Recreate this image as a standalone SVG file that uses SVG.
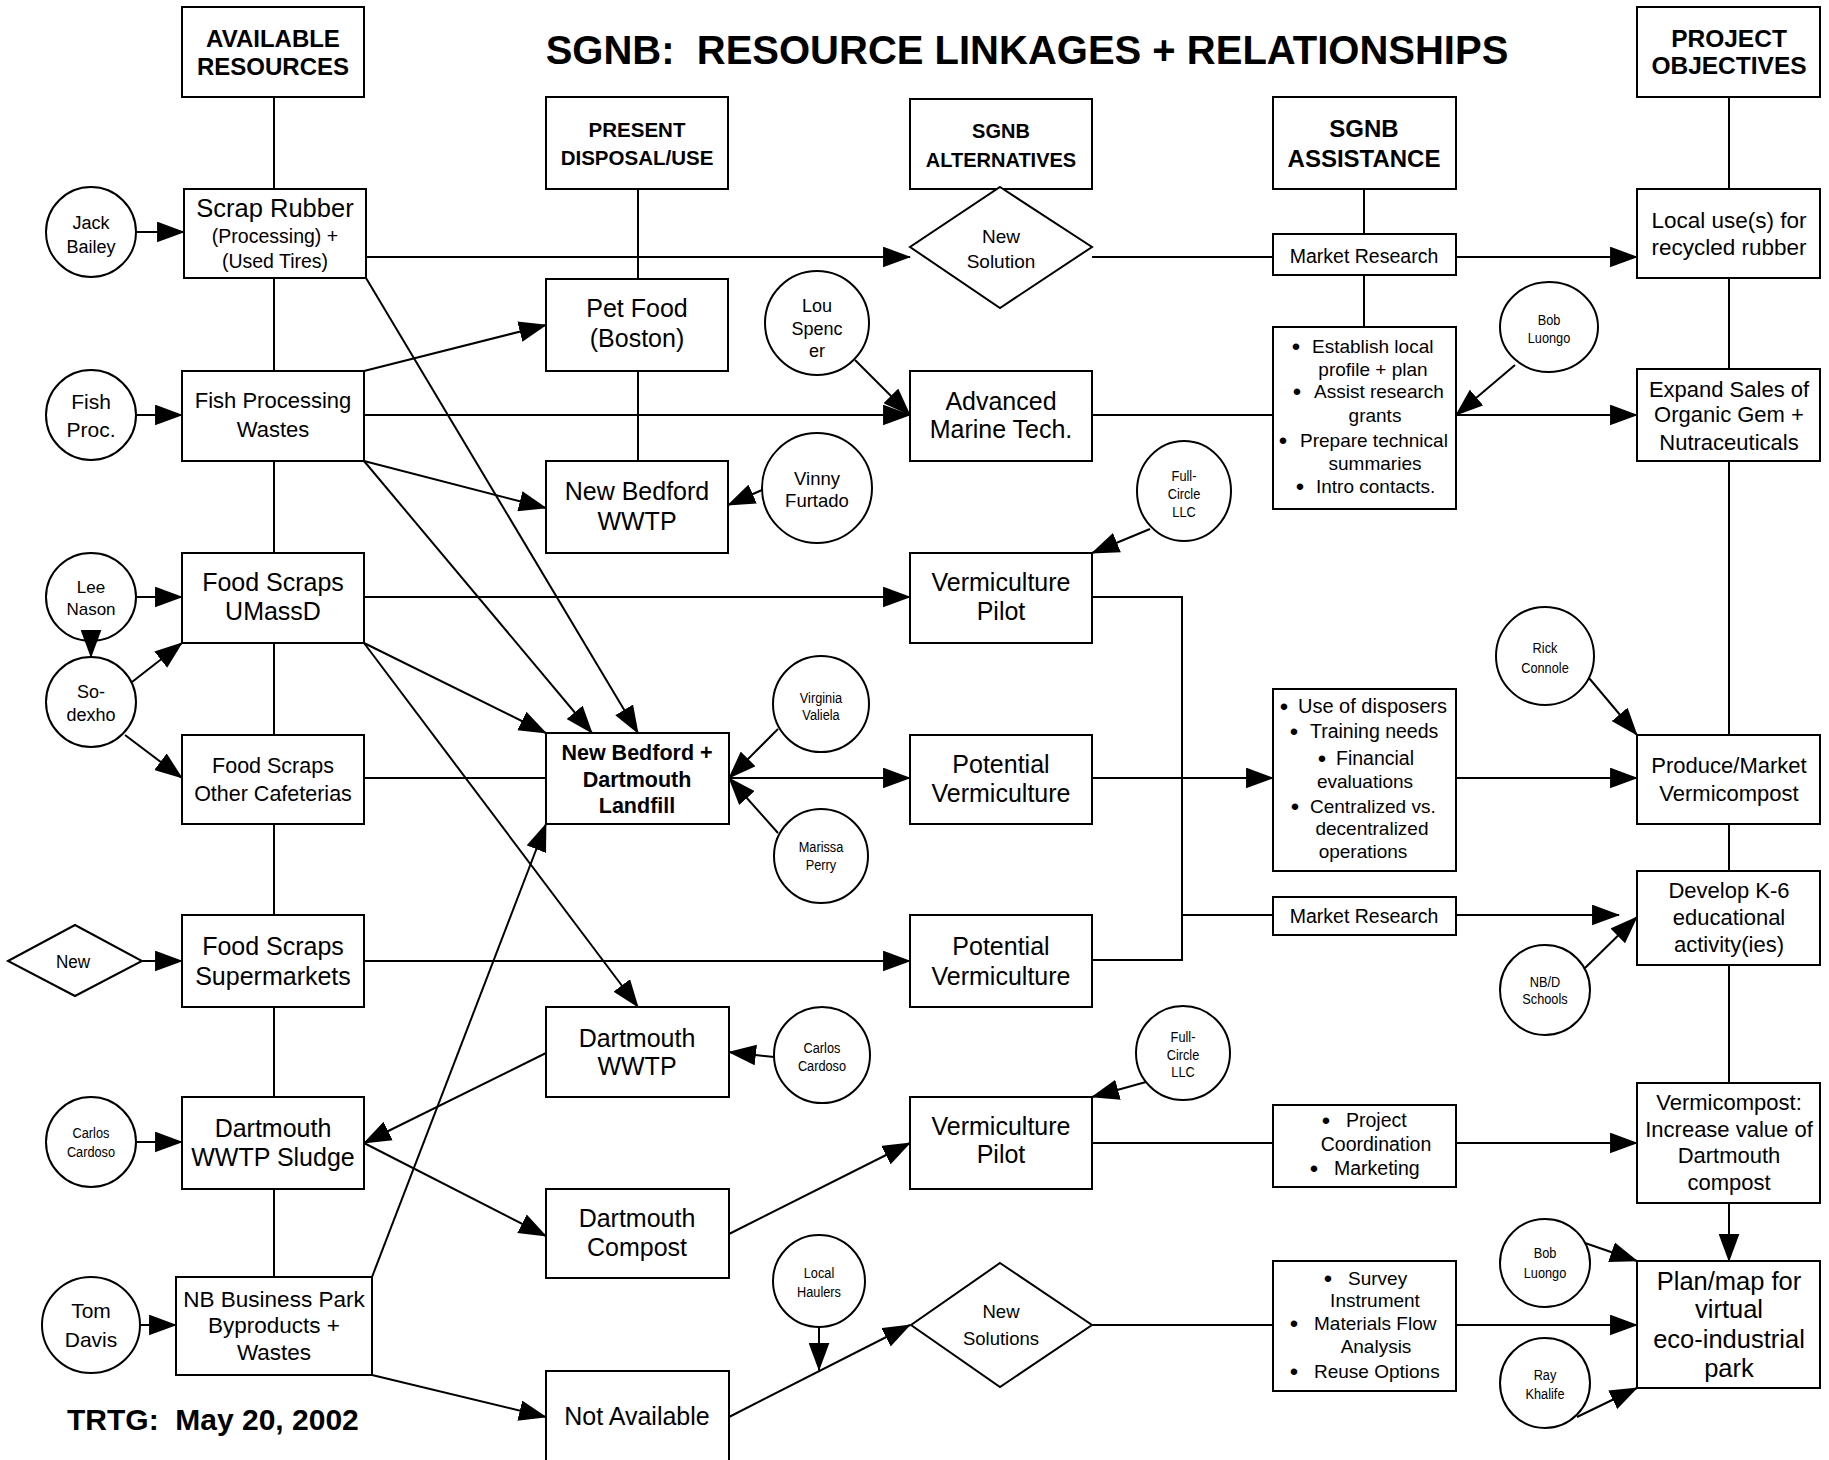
<svg xmlns="http://www.w3.org/2000/svg" width="1829" height="1460" viewBox="0 0 1829 1460">
<defs>
<marker id="ah" markerUnits="userSpaceOnUse" markerWidth="28" markerHeight="21" viewBox="0 0 27 20" refX="26" refY="10" orient="auto">
<path d="M0,0 L27,10 L0,20 z" fill="#000"/>
</marker>
<style>
.bx{fill:#fff;stroke:#000;stroke-width:2}
.ln{fill:none;stroke:#000;stroke-width:2}
.ar{fill:none;stroke:#000;stroke-width:2;marker-end:url(#ah)}
text{font-family:"Liberation Sans",Arial,Helvetica,sans-serif;fill:#000;text-anchor:middle}
.hd{font-weight:bold}
.st{text-anchor:start}
.pre{white-space:pre}
.sm{font-size:14.5px}
.bl{font-size:24px}
</style>
</defs>
<rect width="1829" height="1460" fill="#fff"/>

<!-- titles -->
<text class="hd pre" x="1027" y="64" font-size="40">SGNB:  RESOURCE LINKAGES + RELATIONSHIPS</text>
<text class="hd st pre" x="67" y="1430" font-size="30">TRTG:  May 20, 2002</text>

<!-- column headers -->
<g id="hdr-available">
<rect class="bx" x="182" y="7" width="182" height="90"/>
<text class="hd" font-size="24"><tspan x="273" y="47">AVAILABLE</tspan><tspan x="273" y="75">RESOURCES</tspan></text>
</g>
<g id="hdr-present">
<rect class="bx" x="546" y="97" width="182" height="92"/>
<text class="hd" font-size="20.5"><tspan x="637" y="137">PRESENT</tspan><tspan x="637" y="165">DISPOSAL/USE</tspan></text>
</g>
<g id="hdr-alternatives">
<rect class="bx" x="910" y="99" width="182" height="90"/>
<text class="hd" font-size="20"><tspan x="1001" y="138">SGNB</tspan><tspan x="1001" y="167">ALTERNATIVES</tspan></text>
</g>
<g id="hdr-assistance">
<rect class="bx" x="1273" y="97" width="183" height="92"/>
<text class="hd" font-size="24"><tspan x="1364" y="137">SGNB</tspan><tspan x="1364" y="167">ASSISTANCE</tspan></text>
</g>
<g id="hdr-objectives">
<rect class="bx" x="1637" y="7" width="183" height="90"/>
<text class="hd" font-size="24.5"><tspan x="1729" y="47">PROJECT</tspan><tspan x="1729" y="74">OBJECTIVES</tspan></text>
</g>

<!-- available resources -->
<g id="scrap-rubber">
<rect class="bx" x="184" y="189" width="182" height="89"/>
<text font-size="25.5" x="275" y="217">Scrap Rubber</text>
<text font-size="19.5"><tspan x="275" y="243">(Processing) +</tspan><tspan x="275" y="268">(Used Tires)</tspan></text>
</g>
<g id="fish-processing">
<rect class="bx" x="182" y="371" width="182" height="90"/>
<text font-size="22"><tspan x="273" y="408">Fish Processing</tspan><tspan x="273" y="437">Wastes</tspan></text>
</g>
<g id="food-umassd">
<rect class="bx" x="182" y="553" width="182" height="90"/>
<text font-size="25"><tspan x="273" y="591">Food Scraps</tspan><tspan x="273" y="620">UMassD</tspan></text>
</g>
<g id="food-cafeterias">
<rect class="bx" x="182" y="735" width="182" height="89"/>
<text font-size="21.5"><tspan x="273" y="773">Food Scraps</tspan><tspan x="273" y="801">Other Cafeterias</tspan></text>
</g>
<g id="food-supermarkets">
<rect class="bx" x="182" y="915" width="182" height="92"/>
<text font-size="25"><tspan x="273" y="955">Food Scraps</tspan><tspan x="273" y="985">Supermarkets</tspan></text>
</g>
<g id="wwtp-sludge">
<rect class="bx" x="182" y="1097" width="182" height="92"/>
<text font-size="25"><tspan x="273" y="1137">Dartmouth</tspan><tspan x="273" y="1166">WWTP Sludge</tspan></text>
</g>
<g id="nb-business-park">
<rect class="bx" x="176" y="1277" width="196" height="98"/>
<text font-size="22.5"><tspan x="274" y="1307">NB Business Park</tspan><tspan x="274" y="1333">Byproducts +</tspan><tspan x="274" y="1360">Wastes</tspan></text>
</g>

<!-- contacts, left -->
<g id="jack-bailey">
<circle class="bx" cx="91" cy="232" r="45"/>
<text font-size="18"><tspan x="91" y="229">Jack</tspan><tspan x="91" y="253">Bailey</tspan></text>
</g>
<g id="fish-proc">
<circle class="bx" cx="91" cy="415" r="45"/>
<text font-size="21"><tspan x="91" y="409">Fish</tspan><tspan x="91" y="437">Proc.</tspan></text>
</g>
<g id="lee-nason">
<ellipse class="bx" cx="91" cy="597" rx="45" ry="44"/>
<text font-size="17"><tspan x="91" y="593">Lee</tspan><tspan x="91" y="615">Nason</tspan></text>
</g>
<g id="sodexho">
<circle class="bx" cx="91" cy="702" r="45"/>
<text font-size="18"><tspan x="91" y="698">So-</tspan><tspan x="91" y="721">dexho</tspan></text>
</g>
<g id="new-source">
<polygon class="bx" points="8,961 75,925 142,961 75,996"/>
<text font-size="19" transform="matrix(.9 0 0 1 7.3 0)" x="73" y="968">New</text>
</g>
<g id="carlos-cardoso-1">
<circle class="bx" cx="91" cy="1142" r="45"/>
<text class="sm" transform="matrix(.88 0 0 1 10.92 0)"><tspan x="91" y="1138">Carlos</tspan><tspan x="91" y="1157">Cardoso</tspan></text>
</g>
<g id="tom-davis">
<ellipse class="bx" cx="91" cy="1325" rx="49" ry="48"/>
<text font-size="21"><tspan x="91" y="1318">Tom</tspan><tspan x="91" y="1347">Davis</tspan></text>
</g>

<!-- present disposal / use -->
<g id="pet-food">
<rect class="bx" x="546" y="279" width="182" height="92"/>
<text font-size="25"><tspan x="637" y="317">Pet Food</tspan><tspan x="637" y="347">(Boston)</tspan></text>
</g>
<g id="nb-wwtp">
<rect class="bx" x="546" y="461" width="182" height="92"/>
<text font-size="25"><tspan x="637" y="500">New Bedford</tspan><tspan x="637" y="530">WWTP</tspan></text>
</g>
<g id="landfill">
<rect class="bx" x="546" y="733" width="183" height="91"/>
<text class="hd" font-size="21.5"><tspan x="637" y="760">New Bedford +</tspan><tspan x="637" y="787">Dartmouth</tspan><tspan x="637" y="813">Landfill</tspan></text>
</g>
<g id="dartmouth-wwtp">
<rect class="bx" x="546" y="1007" width="183" height="90"/>
<text font-size="25"><tspan x="637" y="1047">Dartmouth</tspan><tspan x="637" y="1075">WWTP</tspan></text>
</g>
<g id="dartmouth-compost">
<rect class="bx" x="546" y="1189" width="183" height="89"/>
<text font-size="25"><tspan x="637" y="1227">Dartmouth</tspan><tspan x="637" y="1256">Compost</tspan></text>
</g>
<g id="not-available">
<rect class="bx" x="546" y="1371" width="183" height="100"/>
<text font-size="25" x="637" y="1425">Not Available</text>
</g>

<!-- contacts, middle -->
<g id="lou-spencer">
<circle class="bx" cx="817" cy="323" r="52"/>
<text font-size="18"><tspan x="817" y="312">Lou</tspan><tspan x="817" y="335">Spenc</tspan><tspan x="817" y="357">er</tspan></text>
</g>
<g id="vinny-furtado">
<circle class="bx" cx="817" cy="488" r="55"/>
<text font-size="18.5"><tspan x="817" y="485">Vinny</tspan><tspan x="817" y="507">Furtado</tspan></text>
</g>
<g id="virginia-valiela">
<circle class="bx" cx="821" cy="704" r="48"/>
<text class="sm" transform="matrix(.88 0 0 1 98.52 0)"><tspan x="821" y="703">Virginia</tspan><tspan x="821" y="720">Valiela</tspan></text>
</g>
<g id="marissa-perry">
<circle class="bx" cx="821" cy="856" r="47"/>
<text class="sm" transform="matrix(.88 0 0 1 98.52 0)"><tspan x="821" y="852">Marissa</tspan><tspan x="821" y="870">Perry</tspan></text>
</g>
<g id="carlos-cardoso-2">
<circle class="bx" cx="822" cy="1055" r="48"/>
<text class="sm" transform="matrix(.88 0 0 1 98.64 0)"><tspan x="822" y="1053">Carlos</tspan><tspan x="822" y="1071">Cardoso</tspan></text>
</g>
<g id="local-haulers">
<circle class="bx" cx="819" cy="1281" r="46"/>
<text class="sm" transform="matrix(.88 0 0 1 98.28 0)"><tspan x="819" y="1278">Local</tspan><tspan x="819" y="1297">Haulers</tspan></text>
</g>

<!-- SGNB alternatives -->
<g id="new-solution">
<polygon class="bx" points="1000,187 1092,247 1000,308 910,247"/>
<text font-size="19"><tspan x="1001" y="243">New</tspan><tspan x="1001" y="268">Solution</tspan></text>
</g>
<g id="advanced-marine">
<rect class="bx" x="910" y="371" width="182" height="90"/>
<text font-size="25"><tspan x="1001" y="410">Advanced</tspan><tspan x="1001" y="438">Marine Tech.</tspan></text>
</g>
<g id="verm-pilot-1">
<rect class="bx" x="910" y="553" width="182" height="90"/>
<text font-size="25"><tspan x="1001" y="591">Vermiculture</tspan><tspan x="1001" y="620">Pilot</tspan></text>
</g>
<g id="pot-verm-1">
<rect class="bx" x="910" y="735" width="182" height="89"/>
<text font-size="25"><tspan x="1001" y="773">Potential</tspan><tspan x="1001" y="802">Vermiculture</tspan></text>
</g>
<g id="pot-verm-2">
<rect class="bx" x="910" y="915" width="182" height="92"/>
<text font-size="25"><tspan x="1001" y="955">Potential</tspan><tspan x="1001" y="985">Vermiculture</tspan></text>
</g>
<g id="verm-pilot-2">
<rect class="bx" x="910" y="1097" width="182" height="92"/>
<text font-size="25"><tspan x="1001" y="1135">Vermiculture</tspan><tspan x="1001" y="1163">Pilot</tspan></text>
</g>
<g id="new-solutions">
<polygon class="bx" points="1000,1263 1092,1325 1000,1387 911,1325"/>
<text font-size="18.5"><tspan x="1001" y="1318">New</tspan><tspan x="1001" y="1345">Solutions</tspan></text>
</g>
<g id="full-circle-1">
<ellipse class="bx" cx="1184" cy="491" rx="47" ry="50"/>
<text class="sm" transform="matrix(.88 0 0 1 142.08 0)"><tspan x="1184" y="481">Full-</tspan><tspan x="1184" y="499">Circle</tspan><tspan x="1184" y="517">LLC</tspan></text>
</g>
<g id="full-circle-2">
<circle class="bx" cx="1183" cy="1053" r="47"/>
<text class="sm" transform="matrix(.88 0 0 1 141.96 0)"><tspan x="1183" y="1042">Full-</tspan><tspan x="1183" y="1060">Circle</tspan><tspan x="1183" y="1077">LLC</tspan></text>
</g>

<!-- SGNB assistance -->
<g id="market-research-1">
<rect class="bx" x="1273" y="234" width="183" height="41"/>
<text font-size="19.5" x="1364" y="263">Market Research</text>
</g>
<g id="assist-marine">
<rect class="bx" x="1273" y="327" width="183" height="182"/>
<text class="bl" x="1296" y="355">•</text><text class="st" font-size="19" x="1312" y="353">Establish local</text>
<text font-size="19" x="1373" y="376">profile + plan</text>
<text class="bl" x="1297" y="400">•</text><text class="st" font-size="19" x="1314" y="398">Assist research</text>
<text font-size="19" x="1375" y="422">grants</text>
<text class="bl" x="1283" y="449">•</text><text class="st" font-size="19" x="1300" y="447">Prepare technical</text>
<text font-size="19" x="1375" y="470">summaries</text>
<text class="bl" x="1300" y="495">•</text><text class="st" font-size="19" x="1316" y="493">Intro contacts.</text>
</g>
<g id="assist-vermiculture">
<rect class="bx" x="1273" y="689" width="183" height="182"/>
<text class="bl" x="1284" y="715">•</text><text class="st" font-size="20" x="1298" y="713">Use of disposers</text>
<text class="bl" x="1294" y="740">•</text><text class="st" font-size="19.5" x="1310" y="738">Training needs</text>
<text class="bl" x="1322" y="767">•</text><text class="st" font-size="19.5" x="1336" y="765">Financial</text>
<text font-size="19" x="1365" y="788">evaluations</text>
<text class="bl" x="1295" y="815">•</text><text class="st" font-size="19" x="1310" y="813">Centralized vs.</text>
<text font-size="19" x="1372" y="835">decentralized</text>
<text font-size="19" x="1363" y="858">operations</text>
</g>
<g id="market-research-2">
<rect class="bx" x="1273" y="897" width="183" height="38"/>
<text font-size="19.5" x="1364" y="923">Market Research</text>
</g>
<g id="assist-compost">
<rect class="bx" x="1273" y="1105" width="183" height="82"/>
<text class="bl" x="1326" y="1129">•</text><text class="st" font-size="19.5" x="1346" y="1127">Project</text>
<text font-size="19.5" x="1376" y="1151">Coordination</text>
<text class="bl" x="1314" y="1177">•</text><text class="st" font-size="19.5" x="1334" y="1175">Marketing</text>
</g>
<g id="assist-park">
<rect class="bx" x="1273" y="1261" width="183" height="130"/>
<text class="bl" x="1328" y="1287">•</text><text class="st" font-size="19" x="1348" y="1285">Survey</text>
<text font-size="19" x="1375" y="1307">Instrument</text>
<text class="bl" x="1294" y="1332">•</text><text class="st" font-size="19" x="1314" y="1330">Materials Flow</text>
<text font-size="19" x="1376" y="1353">Analysis</text>
<text class="bl" x="1294" y="1380">•</text><text class="st" font-size="19" x="1314" y="1378">Reuse Options</text>
</g>

<!-- contacts, right -->
<g id="bob-luongo-1">
<ellipse class="bx" cx="1549" cy="327" rx="49" ry="45"/>
<text class="sm" transform="matrix(.88 0 0 1 185.88 0)"><tspan x="1549" y="325">Bob</tspan><tspan x="1549" y="343">Luongo</tspan></text>
</g>
<g id="rick-connole">
<circle class="bx" cx="1545" cy="656" r="49"/>
<text class="sm" transform="matrix(.88 0 0 1 185.4 0)"><tspan x="1545" y="653">Rick</tspan><tspan x="1545" y="673">Connole</tspan></text>
</g>
<g id="nbd-schools">
<circle class="bx" cx="1545" cy="990" r="45"/>
<text class="sm" transform="matrix(.88 0 0 1 185.4 0)"><tspan x="1545" y="987">NB/D</tspan><tspan x="1545" y="1004">Schools</tspan></text>
</g>
<g id="bob-luongo-2">
<ellipse class="bx" cx="1545" cy="1263" rx="45" ry="44"/>
<text class="sm" transform="matrix(.88 0 0 1 185.4 0)"><tspan x="1545" y="1258">Bob</tspan><tspan x="1545" y="1278">Luongo</tspan></text>
</g>
<g id="ray-khalife">
<circle class="bx" cx="1545" cy="1383" r="45"/>
<text class="sm" transform="matrix(.88 0 0 1 185.4 0)"><tspan x="1545" y="1380">Ray</tspan><tspan x="1545" y="1399">Khalife</tspan></text>
</g>

<!-- project objectives -->
<g id="obj-rubber">
<rect class="bx" x="1637" y="189" width="183" height="89"/>
<text font-size="22.5"><tspan x="1729" y="228">Local use(s) for</tspan><tspan x="1729" y="255">recycled rubber</tspan></text>
</g>
<g id="obj-organic-gem">
<rect class="bx" x="1637" y="369" width="183" height="92"/>
<text font-size="22"><tspan x="1729" y="397">Expand Sales of</tspan><tspan x="1729" y="422">Organic Gem +</tspan><tspan x="1729" y="450">Nutraceuticals</tspan></text>
</g>
<g id="obj-vermicompost">
<rect class="bx" x="1637" y="735" width="183" height="89"/>
<text font-size="22"><tspan x="1729" y="773">Produce/Market</tspan><tspan x="1729" y="801">Vermicompost</tspan></text>
</g>
<g id="obj-k6">
<rect class="bx" x="1637" y="871" width="183" height="94"/>
<text font-size="22"><tspan x="1729" y="898">Develop K-6</tspan><tspan x="1729" y="925">educational</tspan><tspan x="1729" y="952">activity(ies)</tspan></text>
</g>
<g id="obj-compost">
<rect class="bx" x="1637" y="1083" width="183" height="120"/>
<text font-size="22"><tspan x="1729" y="1110">Vermicompost:</tspan><tspan x="1729" y="1137">Increase value of</tspan><tspan x="1729" y="1163">Dartmouth</tspan><tspan x="1729" y="1190">compost</tspan></text>
</g>
<g id="obj-eco-park">
<rect class="bx" x="1637" y="1261" width="183" height="127"/>
<text font-size="25.5"><tspan x="1729" y="1290">Plan/map for</tspan><tspan x="1729" y="1318">virtual</tspan><tspan x="1729" y="1348">eco-industrial</tspan><tspan x="1729" y="1377">park</tspan></text>
</g>

<!-- connectors -->
<g id="connectors">
<!-- column spines -->
<path class="ln" d="M274,97V189M274,278V371M274,461V553M274,643V735M274,824V915M274,1007V1097M274,1189V1277"/>
<path class="ln" d="M638,189V279M638,371V461"/>
<path class="ln" d="M1364,189V234M1364,275V327"/>
<path class="ln" d="M1729,97V189M1729,278V369M1729,461V735M1729,824V871M1729,965V1083"/>
<!-- plain links -->
<path class="ln" d="M1092,257H1273M1092,415H1273M364,778H546M1092,1143H1273M1092,1325H1273"/>
<path class="ln" d="M1092,597H1182V960H1092M1182,915H1273"/>
<!-- contacts to resources -->
<path class="ar" d="M136,232H184"/>
<path class="ar" d="M136,415H182"/>
<path class="ar" d="M136,597H182"/>
<path class="ar" d="M91,641V657"/>
<path class="ar" d="M132,682L182,643"/>
<path class="ar" d="M125,735L182,778"/>
<path class="ar" d="M142,961H182"/>
<path class="ar" d="M136,1142H182"/>
<path class="ar" d="M140,1325H176"/>
<!-- resource flows -->
<path class="ar" d="M366,257H910"/>
<path class="ar" d="M366,278L638,733"/>
<path class="ar" d="M364,371L546,325"/>
<path class="ar" d="M364,415H910"/>
<path class="ar" d="M364,461L546,508"/>
<path class="ar" d="M364,461L592,733"/>
<path class="ar" d="M364,597H910"/>
<path class="ar" d="M364,643L546,733"/>
<path class="ar" d="M364,643L638,1007"/>
<path class="ar" d="M364,961H910"/>
<path class="ar" d="M546,1053L364,1143"/>
<path class="ar" d="M364,1143L546,1236"/>
<path class="ar" d="M372,1277L546,824"/>
<path class="ar" d="M372,1375L546,1417"/>
<!-- middle contacts and flows -->
<path class="ar" d="M855,360L910,415"/>
<path class="ar" d="M762,490L728,505"/>
<path class="ar" d="M778,729L729,778"/>
<path class="ar" d="M778,833L729,778"/>
<path class="ar" d="M729,778H910"/>
<path class="ar" d="M774,1057L729,1052"/>
<path class="ar" d="M729,1234L910,1143"/>
<path class="ar" d="M729,1417L910,1325"/>
<path class="ar" d="M819,1327V1370"/>
<path class="ar" d="M1150,529L1092,553"/>
<path class="ar" d="M1146,1082L1092,1097"/>
<!-- assistance to objectives -->
<path class="ar" d="M1092,778H1273"/>
<path class="ar" d="M1456,257H1637"/>
<path class="ar" d="M1515,365L1456,415"/>
<path class="ar" d="M1456,415H1637"/>
<path class="ar" d="M1456,778H1637"/>
<path class="ar" d="M1589,678L1637,735"/>
<path class="ar" d="M1456,915H1619"/>
<path class="ar" d="M1585,968L1637,917"/>
<path class="ar" d="M1456,1143H1637"/>
<path class="ar" d="M1729,1203V1261"/>
<path class="ar" d="M1585,1243L1637,1261"/>
<path class="ar" d="M1577,1417L1637,1388"/>
<path class="ar" d="M1456,1325H1637"/>
</g>
</svg>
